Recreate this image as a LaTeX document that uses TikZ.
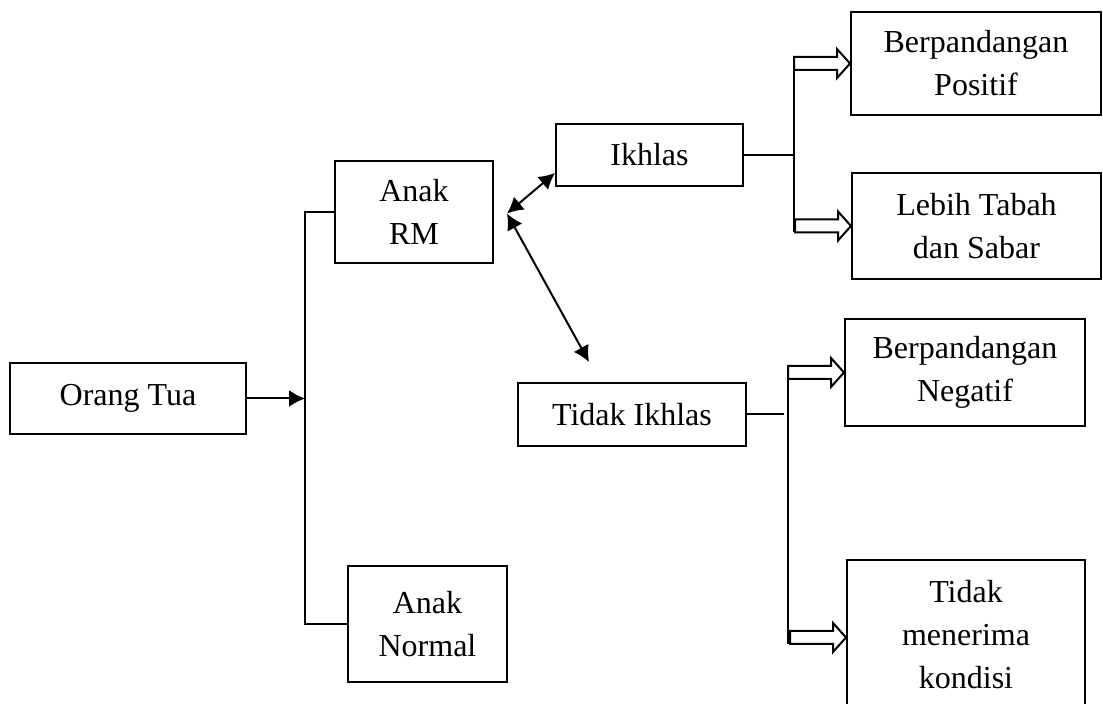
\documentclass[tikz,border=0pt]{standalone}
\usepackage{fontspec}
\setmainfont{Liberation Serif}
\usetikzlibrary{arrows.meta,calc}
\tikzset{
  box/.style={draw, rectangle, line width=1pt, align=center, font=\fontsize{16pt}{21.5pt}\selectfont},
  link/.style={draw, line width=1pt},
  blk/.tip={Latex[length=8pt,width=8.5pt]},
  hollowarr/.pic={\path[draw, line width=1pt, fill=white] (0,0) -- (-13,-14.5) -- (-13,-6.5) -- (-56,-6.5) -- (-56,6.5) -- (-13,6.5) -- (-13,14.5) -- cycle;}
}
\begin{document}
\begin{tikzpicture}[x=0.5pt,y=-0.5pt]
\useasboundingbox (0,0) rectangle (1103,704);
\clip (0,0) rectangle (1103,704);
\node[box, minimum width=118pt, minimum height=35.5pt] (1) at (128,398.5) {Orang Tua};
\node[box, minimum width=79pt, minimum height=51pt] (2) at (414,212) {Anak\\RM};
\node[box, minimum width=79.5pt, minimum height=58pt] (3) at (427.5,624) {Anak\\Normal};
\node[box, minimum width=93.5pt, minimum height=31pt] (4) at (649.5,155) {Ikhlas};
\node[box, minimum width=114pt, minimum height=31.5pt] (5) at (632,414.5) {Tidak Ikhlas};
\node[box, minimum width=125pt, minimum height=51.5pt] (6) at (976,63.5) {Berpandangan\\Positif};
\node[box, minimum width=124.5pt, minimum height=53pt] (7) at (976.5,226) {Lebih Tabah\\dan Sabar};
\node[box, minimum width=120pt, minimum height=53.5pt] (8) at (965,372.5) {Berpandangan\\Negatif};
\node[box, minimum width=119pt, minimum height=82pt, text depth=8pt] (9) at (966,642) {Tidak\\menerima\\kondisi};
% left branch
\coordinate (a) at (305,212);
\coordinate (b) at (305,624);
\path[link] (2.west) -- (a) -- (b) -- (3.west);
\path[link,-blk] (1.east) -- (1.east -| a);
% Anak RM to Ikhlas / Tidak Ikhlas
\coordinate (c) at (507,213.5);
\coordinate (d) at (589,362);
\path[link,blk-blk] (c) -- ($(4.south west)+(0,-14)$);
\path[link,blk-blk] (c) -- (d);
% Ikhlas branch
\coordinate (e) at ($(6.west)+(-56,-6.5)$);
\coordinate (f) at ($(7.west)+(-56,6.5)$);
\path[link] (e) -- (e |- f);
\path[link] (4.east) -- (4.east -| e);
\pic at (6.west) {hollowarr};
\pic at (7.west) {hollowarr};
% Tidak Ikhlas branch
\coordinate (g) at ($(8.west)+(-56,-6.5)$);
\coordinate (h) at (789,644);
\path[link] (g) -- (g |- h);
\path[link, shorten >=2pt] (5.east) -- (5.east -| g);
\pic at (8.west) {hollowarr};
\pic at (9.west |- 0,637.5) {hollowarr};
\end{tikzpicture}
\end{document}
